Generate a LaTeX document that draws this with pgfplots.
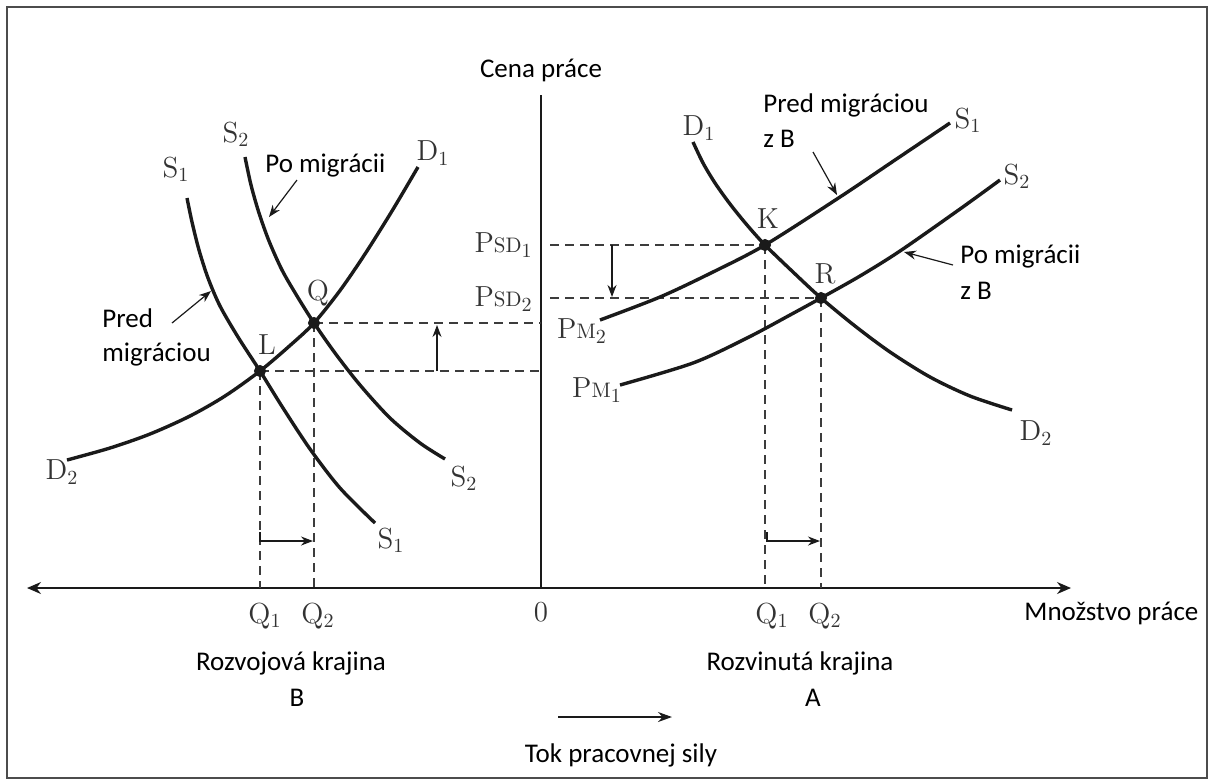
\documentclass[border=0pt]{standalone}
\usepackage{fontspec}
\newfontfamily\sansf{Carlito}
\usepackage{pgfplots}
\pgfplotsset{compat=1.18}
\usetikzlibrary{arrows.meta}
\definecolor{lab}{HTML}{333333}
\definecolor{ink}{HTML}{1A1A1A}
\newcommand{\stxt}[1]{{\sansf\fontsize{13.5}{16}\selectfont #1}}
\newcommand{\lb}[1]{{\color{lab}\fontsize{14.5}{17}\selectfont #1}}
\newcommand{\smc}[1]{{\fontsize{10.5}{12}\selectfont #1}}
\begin{document}
\begin{tikzpicture}
\begin{axis}[scale only axis, width=606.5pt, height=391.5pt,
  xmin=0, xmax=1213, ymin=0, ymax=783, y dir=reverse,
  hide axis, clip=false]
\path (axis cs:0,0) rectangle (axis cs:1213,783);
% frame
\draw[gray!60!black, line width=0.8pt] (axis cs:7,7) rectangle (axis cs:1207,778);
% axes
\draw[ink, line width=0.8pt, {Stealth[length=7pt,width=6pt]}-{Stealth[length=7pt,width=6pt]}] (axis cs:27,588) -- (axis cs:1071,588);
\draw[ink, line width=0.8pt] (axis cs:541,95) -- (axis cs:541,588);
% dashed lines
\addplot[ink!85, line width=0.7pt, dash pattern=on 4.5pt off 3pt] coordinates {(314,323) (541,323)};
\addplot[ink!85, line width=0.7pt, dash pattern=on 4.5pt off 3pt] coordinates {(260,371) (541,371)};
\addplot[ink!85, line width=0.7pt, dash pattern=on 4.5pt off 3pt] coordinates {(260,371) (260,588)};
\addplot[ink!85, line width=0.7pt, dash pattern=on 4.5pt off 3pt] coordinates {(314,323) (314,588)};
\addplot[ink!85, line width=0.7pt, dash pattern=on 4.5pt off 3pt] coordinates {(550,245) (765,245)};
\addplot[ink!85, line width=0.7pt, dash pattern=on 4.5pt off 3pt] coordinates {(550,298) (821,298)};
\addplot[ink!85, line width=0.7pt, dash pattern=on 4.5pt off 3pt] coordinates {(765,245) (765,588)};
\addplot[ink!85, line width=0.7pt, dash pattern=on 4.5pt off 3pt] coordinates {(821,298) (821,588)};
% left panel curves
\addplot[ink, line width=1.7pt, smooth] coordinates {(67,460) (110,448) (150,434) (190,416) (225,396) (260,371) (290,345.5) (314,323) (340,290.5) (365,254) (392,211) (418,167)};
\addplot[ink, line width=1.7pt, smooth] coordinates {(187,198) (192,222) (199,250) (208,278) (220,306) (238,337) (260,371) (283,408) (310,449) (340,488) (375,523)};
\addplot[ink, line width=1.7pt, smooth] coordinates {(245,157) (251,185) (259,213) (269,241) (282,270) (297,296) (314,323) (335,353) (360,385) (390,418) (420,443) (445,459)};
% right panel curves
\addplot[ink, line width=1.7pt, smooth] coordinates {(693,142) (703,163) (715,183) (730,204) (747,225) (765,245) (793,272) (821,298) (855,326) (890,352) (930,377) (970,396) (1012,410)};
\addplot[ink, line width=1.7pt, smooth] coordinates {(600,320) (660,297) (713,272) (765,245) (840,197) (895,160) (950,123)};
\addplot[ink, line width=1.7pt, smooth] coordinates {(620,385) (693,363) (747,338) (790,315) (821,298) (860,276) (900,251) (960,209) (1000,180)};
% equilibrium points
\addplot[ink, only marks, mark=*, mark size=2.8pt] coordinates {(260,371) (314,323) (765,245) (821,298)};
% small arrows
\draw[ink, line width=0.6pt, -{Stealth[length=6pt,width=4.5pt]}] (axis cs:437,371) -- (axis cs:437,325);
\draw[ink, line width=0.6pt, -{Stealth[length=6pt,width=4.5pt]}] (axis cs:612,245) -- (axis cs:612,297);
\draw[ink, line width=0.6pt, -{Stealth[length=6pt,width=4.5pt]}] (axis cs:260,532) -- (axis cs:260,541) -- (axis cs:313,541);
\draw[ink, line width=0.6pt, -{Stealth[length=6pt,width=4.5pt]}] (axis cs:767,532) -- (axis cs:767,541) -- (axis cs:820,541);
\draw[ink, line width=0.6pt, -{Stealth[length=6pt,width=4.5pt]}] (axis cs:172,323) -- (axis cs:211,291);
\draw[ink, line width=0.6pt, -{Stealth[length=6pt,width=4.5pt]}] (axis cs:297,180) -- (axis cs:269,217);
\draw[ink, line width=0.6pt, -{Stealth[length=6pt,width=4.5pt]}] (axis cs:813,152) -- (axis cs:837,195);
\draw[ink, line width=0.6pt, -{Stealth[length=6pt,width=4.5pt]}] (axis cs:953,265) -- (axis cs:904,252);
\draw[ink, line width=0.8pt, -{Stealth[length=7pt,width=5pt]}] (axis cs:558,717) -- (axis cs:672,717);
% sans text
\node[inner sep=0] at (axis cs:541,70) {\stxt{Cena práce}};
\node[inner sep=0, anchor=west] at (axis cs:265,166) {\stxt{Po migrácii}};
\node[inner sep=0, anchor=west] at (axis cs:102,318) {\stxt{Pred}};
\node[inner sep=0, anchor=west] at (axis cs:102,355) {\stxt{migráciou}};
\node[inner sep=0, anchor=west] at (axis cs:763,105) {\stxt{Pred migráciou}};
\node[inner sep=0, anchor=west] at (axis cs:763,139) {\stxt{z B}};
\node[inner sep=0, anchor=west] at (axis cs:960,257) {\stxt{Po migrácii}};
\node[inner sep=0, anchor=west] at (axis cs:960,291) {\stxt{z B}};
\node[inner sep=0, anchor=west] at (axis cs:1024,613) {\stxt{Množstvo práce}};
\node[inner sep=0] at (axis cs:291,663) {\stxt{Rozvojová krajina}};
\node[inner sep=0] at (axis cs:297,698) {\stxt{B}};
\node[inner sep=0] at (axis cs:800,663) {\stxt{Rozvinutá krajina}};
\node[inner sep=0] at (axis cs:813,698) {\stxt{A}};
\node[inner sep=0] at (axis cs:621,755) {\stxt{Tok pracovnej sily}};
% serif labels
\node[inner sep=0] at (axis cs:236,134) {\lb{S$_2$}};
\node[inner sep=0] at (axis cs:176,169) {\lb{S$_1$}};
\node[inner sep=0] at (axis cs:433,153) {\lb{D$_1$}};
\node[inner sep=0] at (axis cs:62,472) {\lb{D$_2$}};
\node[inner sep=0] at (axis cs:464,478) {\lb{S$_2$}};
\node[inner sep=0] at (axis cs:391,540) {\lb{S$_1$}};
\node[inner sep=0] at (axis cs:318,293) {\lb{Q}};
\node[inner sep=0] at (axis cs:267,345) {\lb{L}};
\node[inner sep=0] at (axis cs:699,128) {\lb{D$_1$}};
\node[inner sep=0] at (axis cs:768,219) {\lb{K}};
\node[inner sep=0] at (axis cs:825,274) {\lb{R}};
\node[inner sep=0] at (axis cs:968,120) {\lb{S$_1$}};
\node[inner sep=0] at (axis cs:1017,176) {\lb{S$_2$}};
\node[inner sep=0] at (axis cs:1036,433) {\lb{D$_2$}};
\node[inner sep=0, anchor=east] at (axis cs:533,245) {\lb{P\smc{SD}$_1$}};
\node[inner sep=0, anchor=east] at (axis cs:533,299) {\lb{P\smc{SD}$_2$}};
\node[inner sep=0] at (axis cs:582,331) {\lb{P\smc{M}$_2$}};
\node[inner sep=0] at (axis cs:597,390) {\lb{P\smc{M}$_1$}};
\node[inner sep=0] at (axis cs:265,616) {\lb{Q$_1$}};
\node[inner sep=0] at (axis cs:318,616) {\lb{Q$_2$}};
\node[inner sep=0] at (axis cs:541,612) {\lb{0}};
\node[inner sep=0] at (axis cs:772,616) {\lb{Q$_1$}};
\node[inner sep=0] at (axis cs:825,616) {\lb{Q$_2$}};
\end{axis}
\end{tikzpicture}
\end{document}
